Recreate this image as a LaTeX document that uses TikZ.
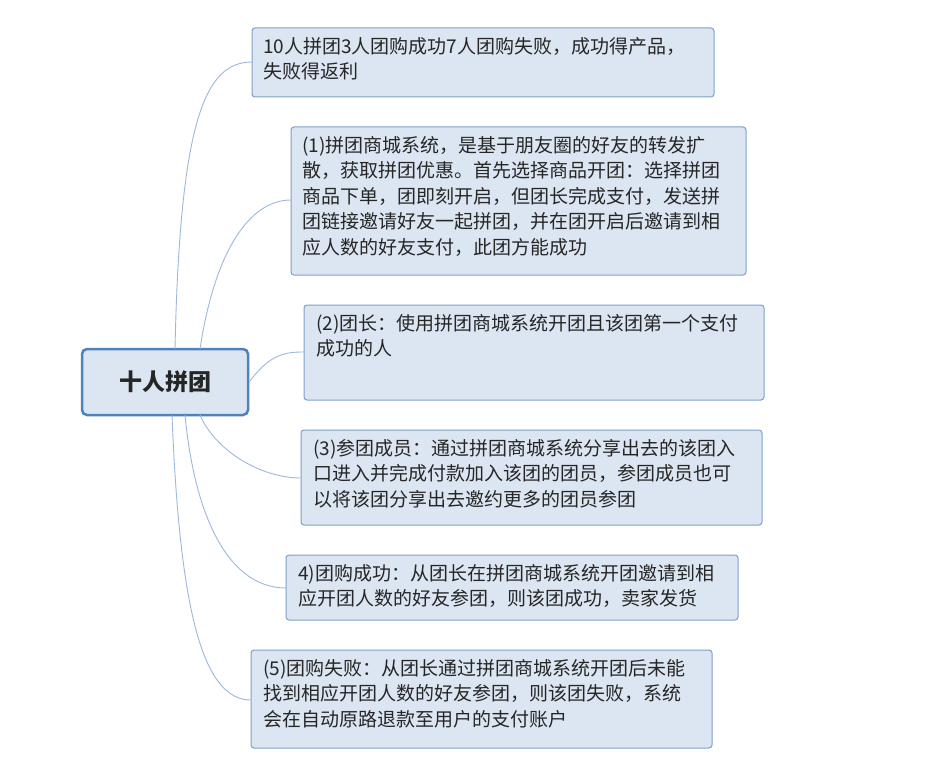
\documentclass[tikz,border=0pt]{standalone}
\usepackage{fontspec}
\setmainfont{Noto Sans CJK SC}
\begin{document}
\begin{tikzpicture}[x=1pt,y=-1pt,
  leaf/.style={draw=#1,fill=leafFill,line width=1pt,rounded corners=3pt,anchor=north west,inner sep=0pt},
  txt/.style={anchor=north west,align=left,inner sep=0pt,font=\fontsize{19}{25.5}\selectfont,text=black!85},
  conn/.style={draw=connC,line width=0.9pt}]
\definecolor{leafFill}{HTML}{DCE6F2}
\definecolor{leafDraw}{HTML}{7F9FCB}
\definecolor{rootDraw}{HTML}{4F81BD}
\definecolor{connC}{HTML}{9DB8DC}
\useasboundingbox[fill=white] (0,0) rectangle (934,781);
\node[draw=rootDraw,fill=leafFill,line width=2.5pt,rounded corners=5pt,minimum width=166pt,minimum height=66pt,font=\fontsize{23}{28}\selectfont\bfseries,text=black!85] (root) at (165,382) {十人拼团};
\path[leaf=leafDraw] (252,28) rectangle (714,97);
\node[txt] (t1) at (263,37) {10人拼团3人团购成功7人团购失败，成功得产品，\\失败得返利};
\coordinate (b1) at (252,62);
\path[leaf=leafDraw] (291,127) rectangle (746,275);
\node[txt] (t2) at (302,136) {(1)拼团商城系统，是基于朋友圈的好友的转发扩\\散，获取拼团优惠。首先选择商品开团：选择拼团\\商品下单，团即刻开启，但团长完成支付，发送拼\\团链接邀请好友一起拼团，并在团开启后邀请到相\\应人数的好友支付，此团方能成功};
\coordinate (b2) at (291,200);
\path[leaf=leafDraw] (304,305) rectangle (764,400);
\node[txt] (t3) at (316,314) {(2)团长：使用拼团商城系统开团且该团第一个支付\\成功的人};
\coordinate (b3) at (304,352);
\path[leaf=leafDraw] (301,430) rectangle (762,525);
\node[txt] (t4) at (313,439) {(3)参团成员：通过拼团商城系统分享出去的该团入\\口进入并完成付款加入该团的团员，参团成员也可\\以将该团分享出去邀约更多的团员参团};
\coordinate (b4) at (301,478);
\path[leaf=leafDraw] (286,555) rectangle (738,620);
\node[txt] (t5) at (298,564) {4)团购成功：从团长在拼团商城系统开团邀请到相\\应开团人数的好友参团，则该团成功，卖家发货};
\coordinate (b5) at (286,588);
\path[leaf=leafDraw] (251,650) rectangle (712,748);
\node[txt] (t6) at (263,659) {(5)团购失败：从团长通过拼团商城系统开团后未能\\找到相应开团人数的好友参团，则该团失败，系统\\会在自动原路退款至用户的支付账户};
\coordinate (b6) at (251,700);
\coordinate (s1) at (175,349);
\coordinate (s2) at (200,349);
\coordinate (s4) at (200,415);
\coordinate (s5) at (185,415);
\coordinate (s6) at (172,415);
\draw[conn] (s1) .. controls (180,120) and (205,62) .. (b1);
\draw[conn] (s2) .. controls (215,250) and (250,200) .. (b2);
\draw[conn] (root.east) .. controls (270,354) and (285,352) .. (b3);
\draw[conn] (s4) .. controls (215,450) and (260,478) .. (b4);
\draw[conn] (s5) .. controls (195,520) and (230,588) .. (b5);
\draw[conn] (s6) .. controls (180,620) and (205,700) .. (b6);
\end{tikzpicture}
\end{document}
